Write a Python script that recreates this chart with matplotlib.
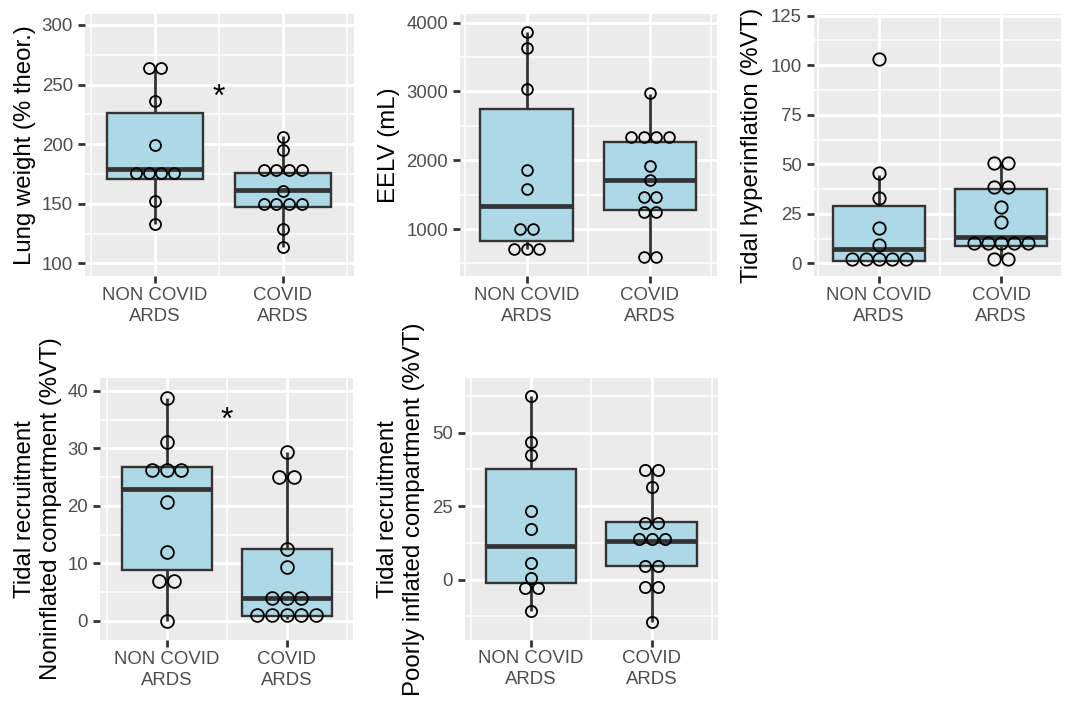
import numpy as np
import matplotlib
matplotlib.use("Agg")
import matplotlib.pyplot as plt

plt.rcParams['font.family'] = ['Liberation Sans', 'DejaVu Sans']

# ---------------- data ----------------
groups = ['NON COVID\nARDS', 'COVID\nARDS']

# Panel 1: lung weight
lung_noncovid = [264, 264, 236, 199, 175.5, 175.5, 175.5, 175.5, 152, 133]
lung_covid = [206, 195, 178, 178, 178, 178, 161, 150, 150, 150, 150, 129, 114]
# box stats: whisker low, Q1, median, Q3, whisker high
lung_box_noncovid = [133, 170.8, 178.9, 226.4, 263.6]
lung_box_covid = [114, 147.6, 161.5, 175.8, 207]

# Panel 2: EELV
eelv_noncovid = [3870, 3637, 3031, 1858, 1587, 995, 995, 704, 704, 704]
eelv_covid = [2973, 2333, 2333, 2333, 2333, 1921, 1708, 1470, 1470, 1242, 1242, 588, 588]
eelv_box_noncovid = [704, 821, 1334, 2745, 3870]
eelv_box_covid = [588, 1271, 1708, 2265, 2958]

# Panel 3: tidal hyperinflation
hyper_noncovid = [103, 45.4, 33, 17.8, 9.3, 2.2, 2.2, 2.2, 2.2, 2.2]
hyper_covid = [50.5, 50.5, 38.5, 38.5, 28.2, 20.8, 10.2, 10.2, 10.2, 10.2, 10.2, 2.0, 2.0]
hyper_box_noncovid = [0.8, 1.3, 7.2, 28.9, 44.6]
hyper_box_covid = [2.0, 8.7, 13.3, 37.6, 50.5]

# Panel 4: tidal recruitment, noninflated compartment
noninfl_noncovid = [38.8, 31.1, 26.2, 26.2, 26.2, 20.7, 11.9, 6.9, 6.9, 0.0]
noninfl_covid = [29.4, 25.0, 25.0, 12.5, 9.3, 4.0, 4.0, 4.0, 1.0, 1.0, 1.0, 1.0, 1.0]
noninfl_box_noncovid = [0.0, 8.8, 23.0, 26.8, 38.8]
noninfl_box_covid = [0.3, 0.8, 4.0, 12.4, 29.4]

# Panel 5: tidal recruitment, poorly inflated compartment
poorly_noncovid = [62.5, 46.9, 42.3, 23.5, 17.2, 5.6, 0.5, -2.9, -2.9, -10.7]
poorly_covid = [37.3, 37.3, 31.4, 19.2, 19.2, 13.7, 13.7, 13.7, 4.6, 4.6, -2.4, -2.4, -14.5]
poorly_box_noncovid = [-10.7, -1.0, 11.3, 37.5, 62.5]
poorly_box_covid = [-14.5, 4.5, 13.0, 19.5, 37.3]

# significance marks (x between groups, y value)
sig_lung_y = 245.5
sig_noninfl_y = 36.2

titles = ['Lung weight (% theor.)', 'EELV (mL)', 'Tidal hyperinflation (%VT)',
          'Tidal recruitment\nNoninflated compartment (%VT)',
          'Tidal recruitment\nPoorly inflated compartment (%VT)']
yticks = [[100, 150, 200, 250, 300], [1000, 2000, 3000, 4000], [0, 25, 50, 75, 100, 125],
          [0, 10, 20, 30, 40], [0, 25, 50]]

# ---------------- layout / style ----------------
W, H = 1072, 702
fig = plt.figure(figsize=(W / 100, H / 100), dpi=100)
fig.patch.set_facecolor('white')

panels = [
    # left, right, top, bottom (px), xlim, ylim, label x-center px, dot diameter px
    dict(rect=(85, 354, 14, 276), xlim=(0.452, 2.558), ylim=(89.4, 309.2), labx=25.5, diam=12.8,
         dots=(lung_noncovid, lung_covid), box=(lung_box_noncovid, lung_box_covid), minor=25),
    dict(rect=(460, 716.5, 14, 276), xlim=(0.459, 2.541), ylim=(316.6, 4126.5), labx=388.5, diam=12.6,
         dots=(eelv_noncovid, eelv_covid), box=(eelv_box_noncovid, eelv_box_covid), minor=500),
    dict(rect=(814, 1062, 14, 276), xlim=(0.467, 2.39), ylim=(-6.41, 125.86), labx=752.3, diam=14.2,
         dots=(hyper_noncovid, hyper_covid), box=(hyper_box_noncovid, hyper_box_covid), minor=12.5),
    dict(rect=(100, 353, 378, 640), xlim=(0.444, 2.553), ylim=(-3.36, 42.26), labx=38.0, diam=14.6,
         dots=(noninfl_noncovid, noninfl_covid), box=(noninfl_box_noncovid, noninfl_box_covid), minor=5),
    dict(rect=(465, 718, 378, 639.5), xlim=(0.453, 2.549), ylim=(-20.35, 68.6), labx=401.0, diam=13.0,
         dots=(poorly_noncovid, poorly_covid), box=(poorly_box_noncovid, poorly_box_covid), minor=12.5),
]

sigs = {0: sig_lung_y, 3: sig_noninfl_y}

for i, p in enumerate(panels):
    l, r, t, b = p['rect']
    ax = fig.add_axes([l / W, 1 - b / H, (r - l) / W, (b - t) / H])
    ax.set_facecolor('#EBEBEB')
    for s in ax.spines.values():
        s.set_visible(False)
    ax.set_xlim(*p['xlim'])

    # grid
    ax.set_axisbelow(True)
    ax.set_xticks([1, 2])
    ax.set_xticklabels(groups, linespacing=1.3)
    ax.set_xticks([0.5, 1.5, 2.5], minor=True)
    yt = yticks[i]
    ax.set_yticks(yt)
    step = p['minor']
    mn = np.arange(yt[0] - step, yt[-1] + 2 * step, 2 * step)
    ax.set_yticks(mn, minor=True)
    ax.set_ylim(*p['ylim'])
    ax.grid(which='major', color='white', linewidth=2.1)
    ax.grid(which='minor', color='white', linewidth=1.1)
    ax.tick_params(which='major', length=4.7, width=2.0, color='#333333',
                   labelcolor='#4D4D4D', labelsize=13.4)
    ax.tick_params(axis='y', which='major', pad=4.0)
    ax.tick_params(axis='x', which='major', pad=3.0)
    ax.tick_params(which='minor', length=0)

    # boxes
    stats = []
    for bx in p['box']:
        stats.append(dict(whislo=bx[0], q1=bx[1], med=bx[2], q3=bx[3], whishi=bx[4], fliers=[]))
    ax.bxp(stats, positions=[1, 2], widths=0.75, patch_artist=True, showcaps=False,
           showfliers=False, manage_ticks=False,
           boxprops=dict(facecolor='#ADD8E6', edgecolor='#333333', linewidth=1.7),
           whiskerprops=dict(color='#333333', linewidth=2.0, solid_capstyle='butt'),
           medianprops=dict(color='#333333', linewidth=3.4, solid_capstyle='butt'))

    # dots (centred stacks)
    px_per_unit = (r - l) / (p['xlim'][1] - p['xlim'][0])
    spacing = p['diam'] / px_per_unit
    mew = 1.3
    ms = p['diam'] * 0.72 - mew
    for gi, vals in enumerate(p['dots']):
        xs, ys = [], []
        uniq = []
        for v in vals:
            if v not in uniq:
                uniq.append(v)
        for v in uniq:
            k = vals.count(v)
            for j in range(k):
                xs.append(gi + 1 + (j - (k - 1) / 2) * spacing)
                ys.append(v)
        ax.plot(xs, ys, 'o', ms=ms, mfc='none', mec='black', mew=mew, zorder=5)

    # y label
    ax.set_ylabel(titles[i], fontsize=17.3, color='black', linespacing=1.2,
                  va='center', ha='center')
    ax.yaxis.set_label_coords((p['labx'] - l) / (r - l), 0.5)

    if i in sigs:
        ax.annotate('*', xy=(1.5, sigs[i]), xytext=(0, -11.5), textcoords='offset points',
                    ha='center', va='baseline', fontsize=23, color='black', zorder=6)

fig.savefig('out.png', dpi=100, facecolor='white')
